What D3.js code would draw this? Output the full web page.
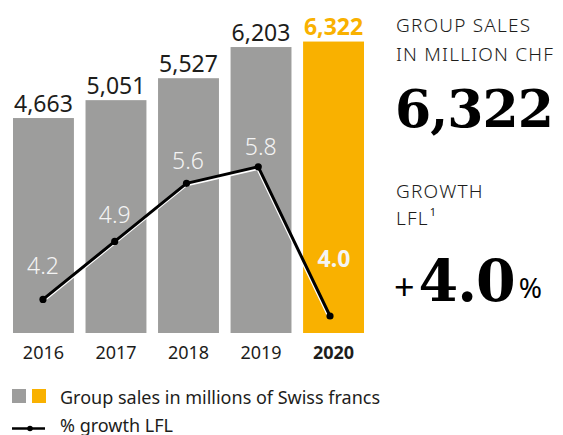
<!DOCTYPE html>
<html>
<head>
<meta charset="utf-8">
<script src="https://cdn.jsdelivr.net/npm/d3@7"></script>
<style>
  body { margin: 0; background: #ffffff; }
  svg { display: block; }
</style>
</head>
<body>
<div id="chart"></div>
<script>
// chart data
var years = ['2016', '2017', '2018', '2019', '2020'];
var sales = [4663, 5051, 5527, 6203, 6322];
var growth_lfl = [4.2, 4.9, 5.6, 5.8, 4.0];
var headline_sales = '6,322';
var headline_growth = '4.0';
var legend_labels = ['Group sales in millions of Swiss francs', '% growth LFL'];

var width = 563;
var height = 435;

var grey = '#9d9d9c';
var orange = '#f9b100';
var ink = '#1d1d1b';
var sans = '"Noto Sans", "DejaVu Sans", sans-serif';
var serif = '"DejaVu Serif", "Liberation Serif", serif';

var highlight = years.length - 1;

var svg = d3.select('#chart')
  .append('svg')
    .attr('width', width)
    .attr('height', height);

// scales
var x = d3.scaleBand()
    .domain(years)
    .range([13, 364])
    .paddingInner(0.16)
    .paddingOuter(0);

var x_line = d3.scalePoint()
    .domain(years)
    .range([43, 330]);

var y = d3.scaleLinear()
    .domain([0, 7000])
    .range([333, 333 - 7000 * 0.0461]);

var y_line = d3.scaleLinear()
    .domain([4, 6])
    .range([316, 150.2]);

// bars
svg.append('g')
    .selectAll('rect.bar')
    .data(sales)
  .enter()
    .append('rect')
    .attr('class', 'bar')
    .attr('x', function(d, i) { return x(years[i]); })
    .attr('y', function(d) { return y(d); })
    .attr('width', x.bandwidth())
    .attr('height', function(d) { return y(0) - y(d); })
    .attr('fill', function(d, i) { return i == highlight ? orange : grey; });

// bar value labels
var fmt = d3.format(',');
svg.append('g')
    .selectAll('text.value')
    .data(sales)
  .enter()
    .append('text')
    .attr('class', 'value')
    .attr('x', function(d, i) { return x(years[i]) + x.bandwidth() / 2; })
    .attr('y', function(d) { return y(d) - 6.5; })
    .attr('text-anchor', 'middle')
    .attr('font-family', sans)
    .attr('font-size', '23px')
    .attr('font-weight', function(d, i) { return i == highlight ? 'bold' : 'normal'; })
    .attr('fill', function(d, i) { return i == highlight ? orange : ink; })
    .text(function(d) { return fmt(d); });

// year labels
svg.append('g')
    .selectAll('text.year')
    .data(years)
  .enter()
    .append('text')
    .attr('class', 'year')
    .attr('x', function(d) { return x(d) + x.bandwidth() / 2; })
    .attr('y', 359)
    .attr('text-anchor', 'middle')
    .attr('font-family', sans)
    .attr('font-size', '18px')
    .attr('font-weight', function(d, i) { return i == highlight ? 'bold' : 'normal'; })
    .attr('fill', ink)
    .text(function(d) { return d; });

// growth line, white shadow first
var line = d3.line()
    .x(function(d, i) { return x_line(years[i]); })
    .y(function(d) { return y_line(d); });

svg.append('path')
    .datum(growth_lfl)
    .attr('d', line)
    .attr('fill', 'none')
    .attr('stroke', '#ffffff')
    .attr('stroke-width', 3)
    .attr('transform', 'translate(-0.5, 1.8)');

svg.append('path')
    .datum(growth_lfl)
    .attr('d', line)
    .attr('fill', 'none')
    .attr('stroke', '#000000')
    .attr('stroke-width', 3)
    .attr('stroke-linejoin', 'round');

svg.append('g')
    .selectAll('circle')
    .data(growth_lfl)
  .enter()
    .append('circle')
    .attr('cx', function(d, i) { return x_line(years[i]); })
    .attr('cy', function(d) { return y_line(d); })
    .attr('r', 3.6)
    .attr('fill', '#000000');

// growth labels (offsets above the points, as laid out in the original)
var label_dy = [-25, -18.5, -14, -12, -49];
var label_dx = [0, 0, 1.5, 2.5, 4];
svg.append('g')
    .selectAll('text.growth')
    .data(growth_lfl)
  .enter()
    .append('text')
    .attr('class', 'growth')
    .attr('x', function(d, i) { return x_line(years[i]) + label_dx[i]; })
    .attr('y', function(d, i) { return y_line(d) + label_dy[i]; })
    .attr('text-anchor', 'middle')
    .attr('font-family', sans)
    .attr('font-size', '23px')
    .attr('font-weight', function(d, i) { return i == highlight ? 'bold' : 300; })
    .attr('fill', '#f4f4f4')
    .text(function(d) { return d.toFixed(1); });

// right hand key figures
var side = svg.append('g');
var heading = function(txt, yy) {
    return side.append('text')
        .attr('x', 396)
        .attr('y', yy)
        .attr('font-family', sans)
        .attr('font-size', '19px')
        .attr('font-weight', 300)
        .attr('letter-spacing', '1.2px')
        .attr('fill', ink)
        .text(txt);
};
heading('GROUP SALES', 31.5);
heading('IN MILLION CHF', 60.5);

side.append('text')
    .attr('x', 395)
    .attr('y', 127)
    .attr('font-family', serif)
    .attr('font-size', '52px')
    .attr('font-weight', 'bold')
    .attr('letter-spacing', '-1px')
    .attr('fill', '#000000')
    .text(headline_sales);

heading('GROWTH', 197.5);
var lfl = heading('LFL', 225);
lfl.append('tspan')
    .attr('dy', -9)
    .attr('dx', 1)
    .attr('font-size', '11px')
    .attr('font-weight', 'normal')
    .text('1');

var big = side.append('text')
    .attr('x', 394)
    .attr('y', 301)
    .attr('fill', '#000000');
big.append('tspan')
    .attr('font-family', sans)
    .attr('font-size', '36px')
    .attr('dy', -1)
    .text('+');
big.append('tspan')
    .attr('font-family', serif)
    .attr('font-size', '57px')
    .attr('font-weight', 'bold')
    .attr('dx', 4)
    .attr('dy', 1)
    .attr('letter-spacing', '-1px')
    .text(headline_growth);
big.append('tspan')
    .attr('font-family', sans)
    .attr('font-size', '28px')
    .attr('dx', 4)
    .attr('dy', -3)
    .text('%');

// legend
var legend = svg.append('g');
legend.append('rect')
    .attr('x', 12).attr('y', 389)
    .attr('width', 14).attr('height', 14)
    .attr('fill', grey);
legend.append('rect')
    .attr('x', 32).attr('y', 389)
    .attr('width', 14).attr('height', 14)
    .attr('fill', orange);
legend.append('text')
    .attr('x', 60)
    .attr('y', 403.5)
    .attr('font-family', sans)
    .attr('font-size', '18px')
    .attr('fill', ink)
    .text(legend_labels[0]);

legend.append('line')
    .attr('x1', 12).attr('x2', 45)
    .attr('y1', 428.5).attr('y2', 428.5)
    .attr('stroke', '#000000')
    .attr('stroke-width', 2.5);
legend.append('circle')
    .attr('cx', 30).attr('cy', 428.5)
    .attr('r', 2.8)
    .attr('fill', '#000000');
legend.append('text')
    .attr('x', 60)
    .attr('y', 432)
    .attr('font-family', sans)
    .attr('font-size', '18px')
    .attr('fill', ink)
    .text(legend_labels[1]);
</script>
</body>
</html>
